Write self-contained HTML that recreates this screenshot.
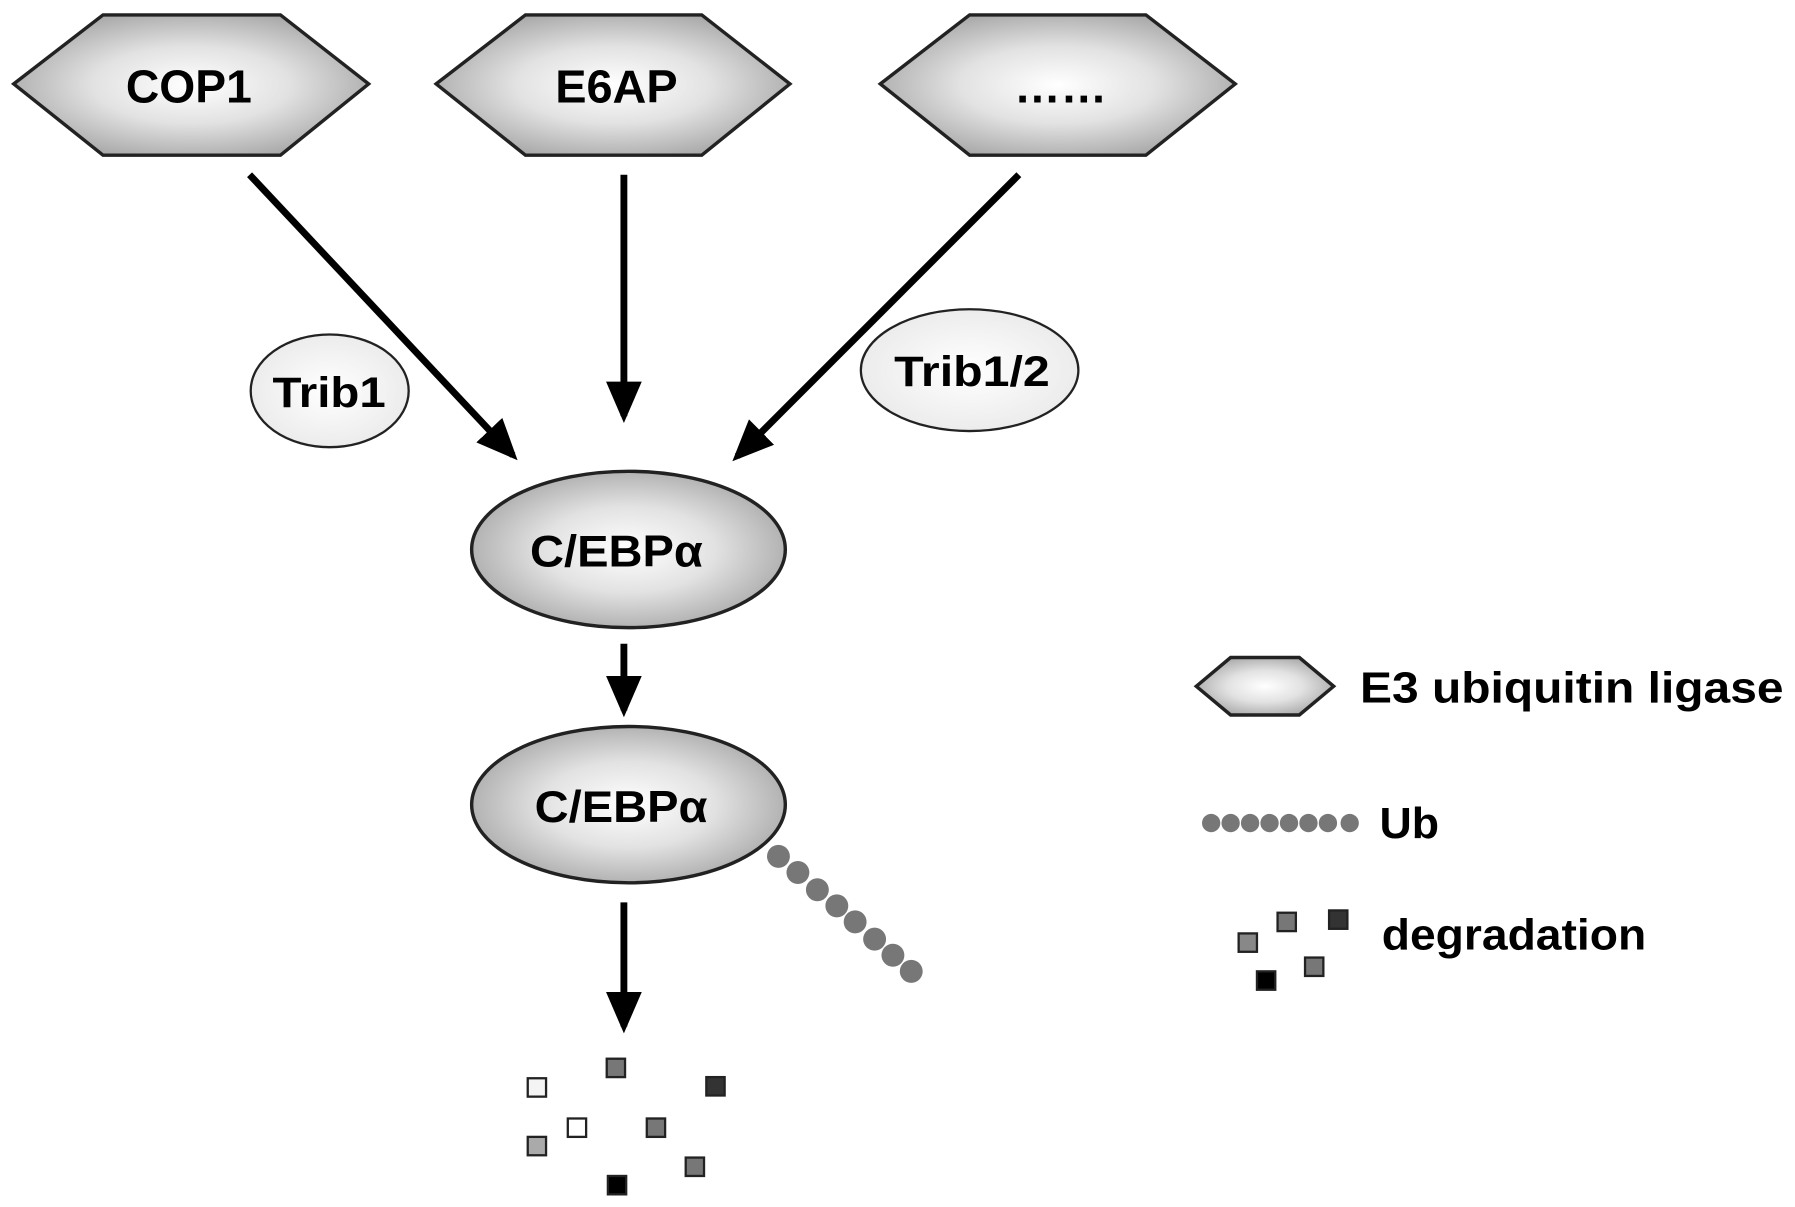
<!DOCTYPE html>
<html><head><meta charset="utf-8"><style>
html,body{margin:0;padding:0;background:#fff;}
svg{display:block;}
text{font-family:"Liberation Sans",sans-serif;font-weight:bold;fill:#000;}
</style></head><body>
<svg width="1795" height="1207" viewBox="0 0 1568 1050" preserveAspectRatio="none" xmlns="http://www.w3.org/2000/svg">
<defs>
<radialGradient id="g" cx="50%" cy="50%" r="55%">
<stop offset="0" stop-color="#ffffff"/><stop offset="0.5" stop-color="#e2e2e2"/><stop offset="1" stop-color="#a8a8a8"/>
</radialGradient>
<radialGradient id="w" cx="50%" cy="50%" r="60%">
<stop offset="0" stop-color="#ffffff"/><stop offset="1" stop-color="#e8e8e8"/>
</radialGradient>
<marker id="a" markerWidth="7" markerHeight="6" refX="5" refY="3" orient="auto" markerUnits="strokeWidth">
<path d="M0,0.4 L6,3 L0,5.6 z" fill="#000"/>
</marker>
</defs>
<g stroke="#222" stroke-width="3" fill="url(#g)">
<polygon points="12,73 90,13 245,13 322,73 245,135 90,135"/>
<polygon points="381,73 459,13 613,13 690,73 613,135 459,135"/>
<polygon points="769,73 847,13 1001,13 1079,73 1001,135 847,135"/>
<polygon points="1045,597 1075,572 1135,572 1165,597 1135,622 1075,622"/>
</g>
<g font-size="40" lengthAdjust="spacingAndGlyphs">
<text x="110" y="89" textLength="110" lengthAdjust="spacingAndGlyphs">COP1</text>
<text x="485" y="89" textLength="107" lengthAdjust="spacingAndGlyphs">E6AP</text>
<text x="886" y="89" textLength="81" lengthAdjust="spacingAndGlyphs">……</text>
</g>
<g stroke="#000" stroke-width="6" marker-end="url(#a)">
<line x1="218" y1="152" x2="448" y2="396"/>
<line x1="545" y1="152" x2="545" y2="362"/>
<line x1="890" y1="152" x2="644" y2="397"/>
<line x1="545" y1="560" x2="545" y2="618"/>
<line x1="545" y1="785" x2="545" y2="893"/>
</g>
<g stroke="#222" stroke-width="2" fill="url(#w)">
<ellipse cx="288" cy="340" rx="69" ry="49"/>
<ellipse cx="847" cy="322" rx="95" ry="53"/>
</g>
<text x="238" y="354" font-size="37" textLength="99" lengthAdjust="spacingAndGlyphs">Trib1</text>
<text x="781" y="336" font-size="37" textLength="136" lengthAdjust="spacingAndGlyphs">Trib1/2</text>
<g stroke="#222" stroke-width="3" fill="url(#g)">
<ellipse cx="549" cy="478" rx="137" ry="68"/>
<ellipse cx="549" cy="700" rx="137" ry="68"/>
</g>
<text x="463" y="493" font-size="39" textLength="151" lengthAdjust="spacingAndGlyphs">C/EBPα</text>
<text x="467" y="715" font-size="39" textLength="151" lengthAdjust="spacingAndGlyphs">C/EBPα</text>
<g fill="#777">
<circle cx="680" cy="745" r="10"/><circle cx="697" cy="759" r="10"/><circle cx="714" cy="774" r="10"/><circle cx="731" cy="788" r="10"/>
<circle cx="747" cy="802" r="10"/><circle cx="764" cy="817" r="10"/><circle cx="780" cy="831" r="10"/><circle cx="796" cy="845" r="10"/>
<circle cx="1058" cy="716" r="8"/><circle cx="1075" cy="716" r="8"/><circle cx="1092" cy="716" r="8"/><circle cx="1109" cy="716" r="8"/>
<circle cx="1126" cy="716" r="8"/><circle cx="1143" cy="716" r="8"/><circle cx="1160" cy="716" r="8"/><circle cx="1179" cy="716" r="8"/>
</g>
<g stroke="#222" stroke-width="2">
<rect x="461" y="938" width="16" height="16" fill="#f4f4f4"/>
<rect x="530" y="921" width="16" height="16" fill="#777"/>
<rect x="617" y="937" width="16" height="16" fill="#333"/>
<rect x="496" y="973" width="16" height="16" fill="#fff"/>
<rect x="565" y="973" width="16" height="16" fill="#777"/>
<rect x="461" y="989" width="16" height="16" fill="#aaa"/>
<rect x="599" y="1007" width="16" height="16" fill="#777"/>
<rect x="531" y="1023" width="16" height="16" fill="#000"/>
<rect x="1082" y="812" width="16" height="16" fill="#888"/>
<rect x="1116" y="794" width="16" height="16" fill="#777"/>
<rect x="1161" y="792" width="16" height="16" fill="#333"/>
<rect x="1140" y="833" width="16" height="16" fill="#777"/>
<rect x="1098" y="845" width="16" height="16" fill="#000"/>
</g>
<text x="1188" y="611" font-size="38" textLength="370" lengthAdjust="spacingAndGlyphs">E3 ubiquitin ligase</text>
<text x="1205" y="729" font-size="38" textLength="52" lengthAdjust="spacingAndGlyphs">Ub</text>
<text x="1207" y="826" font-size="38" textLength="231" lengthAdjust="spacingAndGlyphs">degradation</text>
</svg>
</body></html>
